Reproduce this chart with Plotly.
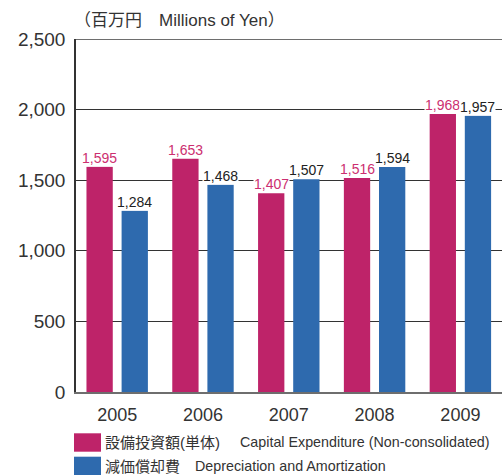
import plotly.graph_objects as go

years = ["2005", "2006", "2007", "2008", "2009"]
capex = [1595, 1653, 1407, 1516, 1968]
depreciation = [1284, 1468, 1507, 1594, 1957]
y_ticks = [0, 500, 1000, 1500, 2000, 2500]

unit_label = "（百万円　Millions of Yen）"
legend_jp = ["設備投資額(単体)", "減価償却費"]
legend_en = ["Capital Expenditure (Non-consolidated)", "Depreciation and Amortization"]

PINK = "#BE2369"
PINK_TXT = "#CC2F70"
BLUE = "#2E6AAE"
TXT = "#333333"

W, H = 502, 475
L, R, T, B = 76, 0, 39, 83
PW = W - L - R
PH = H - T - B


def px_x(px):
    return (px - L) / PW


def px_y(py):
    return (H - B - py) / PH


BAR_W = 0.3065
OFF_P = -0.358
OFF_B = 0.0515

idx = list(range(len(years)))

fig = go.Figure()
fig.add_trace(go.Bar(x=idx, y=capex, width=BAR_W, offset=OFF_P,
                     marker=dict(color=PINK, line=dict(width=0)), showlegend=False,
                     hoverinfo="skip"))
fig.add_trace(go.Bar(x=idx, y=depreciation, width=BAR_W, offset=OFF_B,
                     marker=dict(color=BLUE, line=dict(width=0)), showlegend=False,
                     hoverinfo="skip"))

annotations = []
lab_font = "Liberation Sans, Arial, sans-serif"
for i, v in enumerate(capex):
    annotations.append(dict(x=i + OFF_P + BAR_W / 2, y=v, xref="x", yref="y",
                            text=f"{v:,}", showarrow=False, yanchor="bottom",
                            xanchor="center", bgcolor="white", borderpad=0,
                            yshift=0,
                            font=dict(family=lab_font, size=14, color=PINK_TXT)))
for i, v in enumerate(depreciation):
    annotations.append(dict(x=i + OFF_B + BAR_W / 2, y=v, xref="x", yref="y",
                            text=f"{v:,}", showarrow=False, yanchor="bottom",
                            xanchor="center", bgcolor="white", borderpad=0,
                            yshift=0,
                            font=dict(family=lab_font, size=14, color="#222222")))

# unit label
annotations.append(dict(x=px_x(72), y=px_y(21), xref="paper", yref="paper",
                        text=unit_label, showarrow=False, xanchor="left",
                        yanchor="middle",
                        font=dict(family="Liberation Sans, Noto Sans CJK JP", size=17,
                                  color=TXT)))

# legend
shapes = []
sw_rows = [(433.3, 451.7), (456.7, 475.5)]
sw_cols = [PINK, BLUE]
en_x = [239, 194]
for k in range(2):
    y0, y1 = sw_rows[k]
    shapes.append(dict(type="rect", xref="paper", yref="paper",
                       x0=px_x(74), x1=px_x(101), y0=px_y(y1), y1=px_y(y0),
                       fillcolor=sw_cols[k], line=dict(width=0)))
    yc = (y0 + y1) / 2
    annotations.append(dict(x=px_x(103), y=px_y(yc), xref="paper", yref="paper",
                            text=legend_jp[k], showarrow=False, xanchor="left",
                            yanchor="middle",
                            font=dict(family="Liberation Sans, Noto Sans CJK JP",
                                      size=15, color=TXT)))
    annotations.append(dict(x=px_x(en_x[k] - 1), y=px_y(yc), xref="paper", yref="paper",
                            text=legend_en[k], showarrow=False, xanchor="left",
                            yanchor="middle",
                            font=dict(family=lab_font, size=14.3, color=TXT)))

# top border line at max tick
shapes.append(dict(type="line", xref="paper", yref="y", x0=0, x1=1,
                   y0=y_ticks[-1], y1=y_ticks[-1],
                   line=dict(color="#6e6e6e", width=2)))

fig.update_layout(
    width=W, height=H,
    margin=dict(l=L, r=R, t=T, b=B, pad=0),
    paper_bgcolor="white", plot_bgcolor="white",
    barmode="overlay",
    annotations=annotations,
    shapes=shapes,
    xaxis=dict(range=[-0.48, 4.485], tickvals=idx, ticktext=years,
               showgrid=False, zeroline=False, showline=True,
               linecolor="#6e6e6e", linewidth=2, ticks="",
               ticklabelstandoff=5,
               tickfont=dict(family="Liberation Sans, Arial, sans-serif", size=18,
                             color=TXT)),
    yaxis=dict(range=[0, 2500], tickvals=y_ticks,
               ticktext=[f"{v:,}" for v in y_ticks],
               showgrid=True, gridcolor="#333333", gridwidth=1,
               zeroline=False, showline=True, linecolor="#333333", linewidth=1.5,
               ticks="", ticklabelstandoff=5,
               tickfont=dict(family="Liberation Sans, Arial, sans-serif", size=19,
                             color=TXT)),
)

fig.write_html("out.html", config={"displayModeBar": False},
               post_script="document.body.style.margin='0';document.body.style.overflow='hidden';")
